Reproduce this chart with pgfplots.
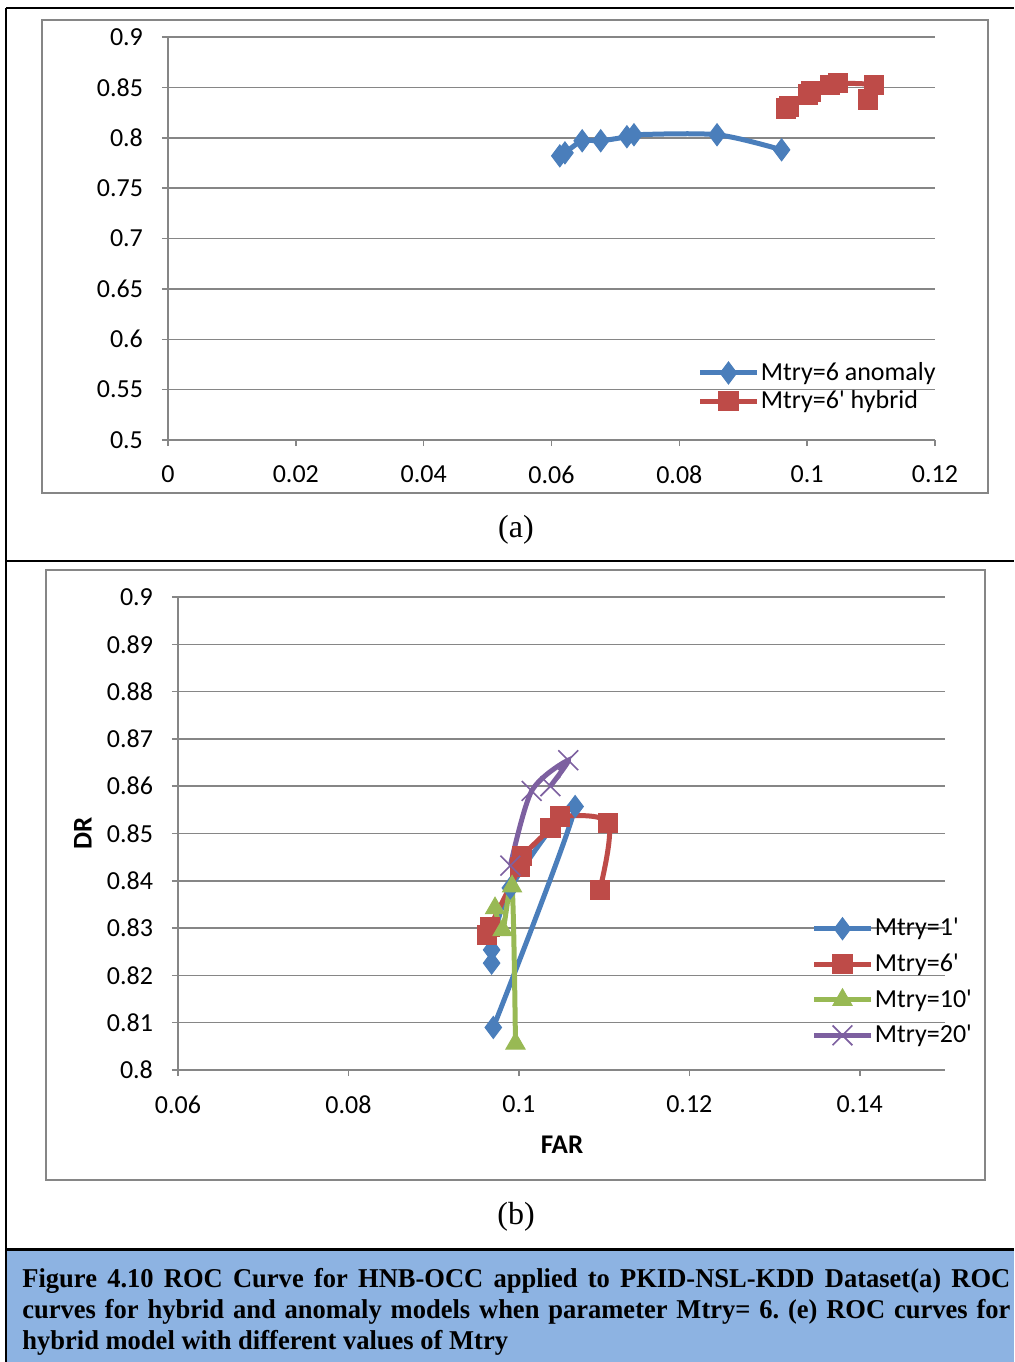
\documentclass[border=0pt]{standalone}
\usepackage{pgfplots}
\pgfplotsset{compat=1.18}
\usepackage{fontspec}
\setmainfont{Carlito}
\newfontfamily\timesf{Liberation Serif}
\newfontfamily\timescap[FakeStretch=0.975]{Liberation Serif}
\definecolor{xblue}{HTML}{4A7EBB}
\definecolor{xred}{HTML}{BE4B48}
\definecolor{xgreen}{HTML}{98B954}
\definecolor{xpurple}{HTML}{7D60A0}
\definecolor{gridgray}{HTML}{868686}
\definecolor{capblue}{HTML}{8DB3E2}
\pgfplotsset{
  xlstyle/.style={
    scale only axis, axis x line=bottom, axis y line=left,
    axis line style={gridgray, line width=0.75pt,-},
    tick align=outside, major tick length=3pt,
    tick style={gridgray, line width=0.75pt},
    ymajorgrids, grid style={gridgray, line width=0.75pt},
    scaled ticks=false,
    tick label style={font=\fontsize{13}{15}\selectfont, /pgf/number format/fixed, /pgf/number format/precision=2},
    /pgf/number format/assume math mode=true,
    yticklabel style={xshift=-6pt}, xticklabel style={yshift=-6.5pt},
    legend cell align=left,
    legend style={draw=none, fill=none, font=\fontsize{13}{15}\selectfont, inner sep=0pt, outer sep=0pt, nodes={inner sep=1pt}},
    legend image code/.code={\draw[mark repeat=2, mark phase=2] plot coordinates {(0pt,0pt)(14pt,0pt)(28pt,0pt)};},
    every axis plot/.append style={line width=2.5pt, smooth},
  }
}
\begin{document}
\frenchspacing
\begin{tikzpicture}
\useasboundingbox (0pt,0pt) rectangle (507pt,-681pt);
% caption background
\fill[capblue] (3pt,-624.5pt) rectangle (507pt,-681pt);
% frame
\draw[line width=1pt] (3pt,-4pt) -- (507pt,-4pt);
\draw[line width=1pt] (3pt,-4pt) -- (3pt,-681pt);
\draw[line width=1pt] (3pt,-280.5pt) -- (507pt,-280.5pt);
\draw[line width=1.5pt] (3pt,-624.5pt) -- (507pt,-624.5pt);
% chart borders
\draw[gridgray, line width=0.75pt] (21pt,-10pt) rectangle (494pt,-246.5pt);
\draw[gridgray, line width=0.75pt] (23pt,-285pt) rectangle (492.5pt,-590pt);

\begin{axis}[xlstyle,
  at={(84pt,-220pt)}, anchor=south west,
  width=383.5pt, height=201.5pt,
  xmin=0, xmax=0.12, ymin=0.5, ymax=0.9,
  xtick={0,0.02,0.04,0.06,0.08,0.1,0.12},
  ytick={0.5,0.55,0.6,0.65,0.7,0.75,0.8,0.85,0.9},
  legend style={at={(0.691,0.1315)}, anchor=west, row sep=1.5pt},
]
\addplot[xblue, mark=diamond*, mark size=5.5pt, mark options={fill=xblue, draw=xblue, line width=0.5pt}] coordinates {
(0.0613,0.782)(0.0621,0.785)(0.0648,0.797)(0.0677,0.797)(0.0718,0.801)(0.0729,0.803)(0.0859,0.803)(0.0960,0.788)};
\addlegendentry{Mtry=6 anomaly}
\addplot[xred, mark=square*, mark size=4.8pt, mark options={fill=xred, draw=xred, line width=0.5pt}] coordinates {
(0.0967,0.829)(0.0971,0.831)(0.1001,0.843)(0.1006,0.846)(0.1036,0.852)(0.1048,0.854)(0.1105,0.852)(0.1095,0.838)};
\addlegendentry{Mtry=6\textquotesingle\ hybrid}
\end{axis}
\node[font=\timesf\fontsize{16}{18}\selectfont] at (258pt,-265pt) {(a)};

\begin{axis}[xlstyle,
  at={(89pt,-535pt)}, anchor=south west,
  width=383.5pt, height=236.5pt,
  xmin=0.06, xmax=0.15, ymin=0.8, ymax=0.9,
  xtick={0.06,0.08,0.1,0.12,0.14},
  ytick={0.8,0.81,0.82,0.83,0.84,0.85,0.86,0.87,0.88,0.89,0.9},
  ylabel={DR},
  xlabel={FAR},
  every axis y label/.style={at={(axis description cs:-0.1239,0.501)}, rotate=90, anchor=center, font=\bfseries\fontsize{13.5}{15}\selectfont},
  every axis x label/.style={at={(axis description cs:0.5007,-0.1586)}, anchor=center, font=\bfseries\fontsize{13.5}{15}\selectfont},
  legend style={at={(0.8266,0.186)}, anchor=west, row sep=5.5pt},
]
\addplot[xblue, mark=diamond*, mark size=5.5pt, mark options={fill=xblue, draw=xblue, line width=0.5pt}] coordinates {
(0.0968,0.8226)(0.0968,0.8254)(0.0990,0.8385)(0.1066,0.8557)(0.0970,0.8090)};
\addlegendentry{Mtry=1\textquotesingle}
\addplot[xred, mark=square*, mark size=4.8pt, mark options={fill=xred, draw=xred, line width=0.5pt}] coordinates {
(0.0963,0.8285)(0.0966,0.8302)(0.1001,0.8430)(0.1004,0.8452)(0.1037,0.8511)(0.1048,0.8536)(0.1105,0.8522)(0.1095,0.8381)};
\addlegendentry{Mtry=6\textquotesingle}
\addplot[xgreen, mark=triangle*, mark size=5.5pt, mark options={fill=xgreen, draw=xgreen, line width=0.5pt}] coordinates {
(0.0972,0.8342)(0.0981,0.8296)(0.0992,0.8388)(0.0996,0.8056)};
\addlegendentry{Mtry=10\textquotesingle}
\addplot[xpurple, mark=x, mark size=7pt, mark options={draw=xpurple, line width=0.8pt}] coordinates {
(0.0990,0.8432)(0.1015,0.8590)(0.1058,0.8655)(0.1037,0.8600)};
\addlegendentry{Mtry=20\textquotesingle}
\end{axis}
\node[font=\timesf\fontsize{16}{18}\selectfont] at (258pt,-608.5pt) {(b)};

\node[anchor=base west, inner sep=0pt, font=\timescap\bfseries\fontsize{13.6}{15.5}\selectfont] at (11pt,-643.5pt) {%
\parbox[t]{494pt}{\frenchspacing\makebox[494pt][s]{Figure 4.10 ROC Curve for HNB-OCC applied to PKID-NSL-KDD Dataset(a) ROC}\\
\makebox[494pt][s]{curves for hybrid and anomaly models when parameter Mtry= 6. (e) ROC curves for}\\
hybrid model with different values of Mtry}};
\end{tikzpicture}
\end{document}
